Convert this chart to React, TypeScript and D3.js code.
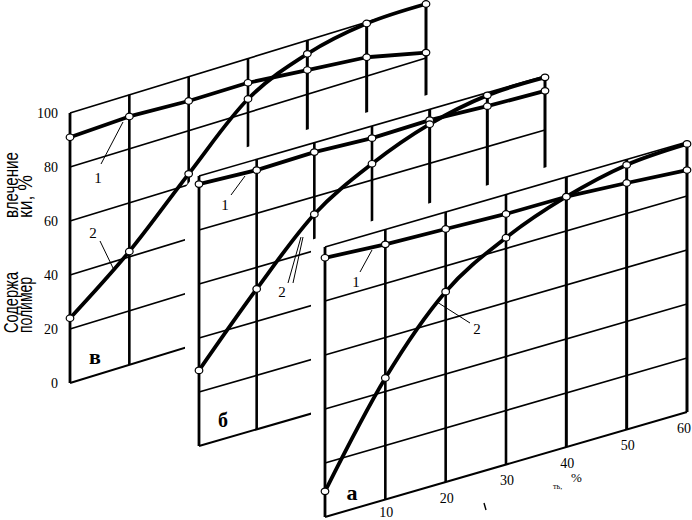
import * as d3 from 'd3';

// x: content, %  ;  y: content, %
const X_VALUES = [0, 10, 20, 30, 40, 50, 60];
const Y_TICKS = [0, 20, 40, 60, 80, 100];
const X_TICKS = [10, 20, 30, 40, 50, 60];

// panel "в"
const V_CURVE1 = [91, 92, 91, 91, 89, 87, 82];
const V_CURVE2 = [24, 42, 64, 85, 95, 99.5, 100];
// panel "б"
const B_CURVE1 = [97, 96, 96.5, 95.5, 96, 95, 94.5];
const B_CURVE2 = [28, 52, 73.5, 86, 94.5, 99, 99.5];
// panel "а"
const A_CURVE1 = [96, 94.5, 93.7, 92.8, 92.7, 91.3, 89.6];
const A_CURVE2 = [9.5, 45, 70.5, 84, 92.7, 98, 99.3];

const W = 692;
const H = 520;
const SERIF = '"Liberation Serif", "DejaVu Serif", serif';
const SANS = '"Liberation Sans", Arial, sans-serif';

// skewed panel geometry (back to front)
const PANELS = [
  { key: 'v', ox: 70, oy: 383, w: 356, rise: 109, h: 270, c1: V_CURVE1, c2: V_CURVE2, mask: null },
  { key: 'b', ox: 199, oy: 446, w: 346, rise: 100, h: 270, c1: B_CURVE1, c2: B_CURVE2,
    mask: { gapL: 14, gapT: 15, cut: 12, extra: 0 } },
  { key: 'a', ox: 325, oy: 517, w: 362, rise: 105, h: 270, c1: A_CURVE1, c2: A_CURVE2,
    mask: { gapL: 14, gapT: 11, cut: null, extra: 0.02 } },
];

function makeProj(g) {
  const sx = d3.scaleLinear().domain([0, 60]).range([g.ox, g.ox + g.w]);
  const lift = d3.scaleLinear().domain([0, 60]).range([0, -g.rise]);
  const sy = d3.scaleLinear().domain([0, 100]).range([g.oy, g.oy - g.h]);
  return (x, y) => [sx(x), sy(y) + lift(x)];
}

function maskPoints(g) {
  const m = g.mask;
  const slope = g.rise / g.w + m.extra;
  const top0 = g.oy - g.h;
  const topAt = (x) => top0 - (x - g.ox) * (g.rise / g.w);
  const left = g.ox - m.gapL;
  let pts;
  if (m.cut != null) {
    const cx = g.ox + 8;
    pts = [[left, top0 + m.cut], [cx, topAt(cx) - m.gapT], [W + 10, topAt(cx) - m.gapT - (W + 10 - cx) * slope]];
  } else {
    const y0 = topAt(left) - m.gapT;
    pts = [[left, y0], [W + 10, y0 - (W + 10 - left) * slope]];
  }
  pts.push([W + 10, H + 10], [left, H + 10]);
  return pts.map((p) => p.join(',')).join(' ');
}

function Panel({ g }) {
  const p = makeProj(g);
  const seg = (a, b, sw, key) => (
    <line key={key} x1={a[0]} y1={a[1]} x2={b[0]} y2={b[1]} stroke="#000" strokeWidth={sw} />
  );
  const pts1 = X_VALUES.map((x, i) => p(x, g.c1[i]));
  const pts2 = X_VALUES.map((x, i) => p(x, g.c2[i]));
  const lin = d3.line().curve(d3.curveLinear);
  const smooth = d3.line().curve(d3.curveMonotoneX);
  return (
    <g>
      {g.mask && <polygon points={maskPoints(g)} fill="#fff" />}
      {Y_TICKS.filter((y) => y > 0 && y < 100).map((y) => seg(p(0, y), p(60, y), 1.7, 'h' + y))}
      {seg(p(0, 0), p(60, 0), 2, 'bottom')}
      {seg(p(0, 100), p(60, 100), 1.6, 'top')}
      {X_TICKS.map((x) => seg(p(x, 0), p(x, 100), x >= 40 ? 3 : 2.6, 'v' + x))}
      {seg(p(0, 0), p(0, 100), 2.8, 'left')}
      <path d={lin(pts1)} fill="none" stroke="#000" strokeWidth={3.8} strokeLinejoin="round" />
      <path d={smooth(pts2)} fill="none" stroke="#000" strokeWidth={3.8} strokeLinejoin="round" />
      {[...pts1, ...pts2].map((q, i) => (
        <ellipse key={'pt' + i} cx={q[0]} cy={q[1]} rx={3.8} ry={3.3} fill="#fff" stroke="#000" strokeWidth={1.2} />
      ))}
    </g>
  );
}

function Label({ x, y, t, size = 15, bold = false }) {
  return (
    <text x={x} y={y} fontFamily={SERIF} fontSize={size} fontWeight={bold ? 'bold' : 'normal'}
      textAnchor="middle" dominantBaseline="central">{t}</text>
  );
}

function Leader({ a, b }) {
  return <line x1={a[0]} y1={a[1]} x2={b[0]} y2={b[1]} stroke="#000" strokeWidth={1} />;
}

export default function App() {
  const [gv, gb, ga] = PANELS;
  const pv = makeProj(gv);
  const pa = makeProj(ga);
  return (
    <svg width={W} height={H} style={{ position: 'absolute', left: 0, top: 0, background: '#fff' }}>
      <rect width={W} height={H} fill="#fff" />

      {/* panel в */}
      <Panel g={gv} />
      {Y_TICKS.map((y) => (
        <text key={'yt' + y} x={58} y={pv(0, y)[1]} fontFamily={SERIF} fontSize={14}
          textAnchor="end" dominantBaseline="central">{y}</text>
      ))}
      <Label x={95} y={356} t="в" size={22} bold />
      <Label x={98} y={178} t="1" />
      <Leader a={[101, 164]} b={[123, 122]} />
      <Label x={93} y={233} t="2" />
      <Leader a={[100, 241]} b={[114, 270]} />

      {/* axis title (rotated) */}
      <text transform="translate(18,218) rotate(-90)" fontFamily={SANS} fontSize={20}
        textLength={66} lengthAdjust="spacingAndGlyphs">влечение</text>
      <text transform="translate(32,218) rotate(-90)" fontFamily={SANS} fontSize={20}
        textLength={43} lengthAdjust="spacingAndGlyphs">ки, %</text>
      <text transform="translate(18,333) rotate(-90)" fontFamily={SANS} fontSize={20}
        textLength={61} lengthAdjust="spacingAndGlyphs">Содержа</text>
      <text transform="translate(32,333) rotate(-90)" fontFamily={SANS} fontSize={20}
        textLength={56} lengthAdjust="spacingAndGlyphs">полимер</text>

      {/* panel б */}
      <Panel g={gb} />
      <Label x={223} y={420} t="б" size={20} bold />
      <Label x={225} y={205} t="1" />
      <Leader a={[231, 195]} b={[245, 176]} />
      <Label x={282} y={292} t="2" />
      <Leader a={[288, 283]} b={[301, 237]} />
      <Leader a={[293, 283]} b={[303, 237]} />

      {/* panel а */}
      <Panel g={ga} />
      <Label x={352} y={492} t="а" size={22} bold />
      <Label x={356} y={282} t="1" />
      <Leader a={[360, 272]} b={[372, 250]} />
      <Label x={477} y={329} t="2" />
      <Leader a={[470, 323]} b={[437, 302]} />
      {X_TICKS.map((x) => {
        const q = pa(x, 0);
        const last = x === 60;
        return (
          <text key={'xt' + x} x={last ? W - 1 : q[0] + 1} y={Math.min(q[1] + 16, H - 8)}
            fontFamily={SERIF} fontSize={14}
            textAnchor={last ? 'end' : 'middle'} dominantBaseline="central">{x}</text>
        );
      })}
      <text x={553} y={489} fontFamily={SERIF} fontSize={8}>ть,</text>
      <text x={571} y={482} fontFamily={SERIF} fontSize={13}>%</text>
      <line x1={484} y1={503} x2={486} y2={510} stroke="#000" strokeWidth={1.4} />
    </svg>
  );
}
